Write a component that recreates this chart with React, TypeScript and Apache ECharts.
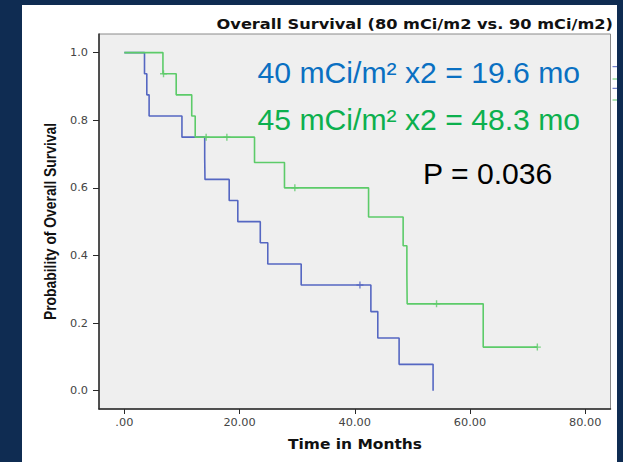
import React, { useEffect, useRef } from "react";
import * as echarts from "echarts";

// Kaplan-Meier steps [months, survival probability]
const blueEvents: [number, number][] = [
  [0, 1.0], [3.5, 0.9375], [3.9, 0.875], [4.3, 0.8125], [10.0, 0.75],
  [13.95, 0.6875], [14.0, 0.625], [18.2, 0.5625], [19.7, 0.5], [23.6, 0.4375],
  [24.9, 0.375], [30.7, 0.3125], [42.8, 0.234], [44.0, 0.156], [47.7, 0.078],
  [53.6, 0.0],
];
const blueCensored: [number, number][] = [[40.9, 0.3125]];

const greenEvents: [number, number][] = [
  [0, 1.0], [6.7, 0.9375], [9.0, 0.875], [11.7, 0.8125], [12.3, 0.75],
  [22.6, 0.675], [27.8, 0.6], [42.4, 0.514], [48.4, 0.429], [49.05, 0.343],
  [49.1, 0.257], [62.3, 0.129], [71.7, 0.129],
];
const greenCensored: [number, number][] = [
  [6.8, 0.9375], [14.2, 0.75], [17.8, 0.75], [29.6, 0.6], [54.2, 0.257], [71.7, 0.129],
];

const xTicks = [0, 20, 40, 60, 80];
const yTicks = [0, 0.2, 0.4, 0.6, 0.8, 1.0];

const titleText = "Overall Survival (80 mCi/m2 vs. 90 mCi/m2)";
const xName = "Time in Months";
const yName = "Probability of Overall Survival";
const note1 = "40 mCi/m\u00b2 x2 = 19.6 mo";
const note2 = "45 mCi/m\u00b2 x2 = 48.3 mo";
const note3 = "P = 0.036";

const BLUE = "#5567c2";
const GREEN = "#5ccb69";
const PLUS = "path://M4,0H6V4H10V6H6V10H4V6H0V4H4Z";

export default function App() {
  const ref = useRef<HTMLDivElement>(null);
  useEffect(() => {
    if (!ref.current) return;
    const chart = echarts.init(ref.current, null, { renderer: "svg" });
    const tickFont = { fontFamily: "DejaVu Sans", fontSize: 11.3, color: "#444" };
    const noteStyle = { fontFamily: "Liberation Sans, Arial", fontSize: 29, verticalAlign: "middle" };
    chart.setOption({
      animation: false,
      backgroundColor: "transparent",
      grid: {
        left: 99, top: 34, width: 511.5, height: 375,
        show: true, backgroundColor: "#efefef", borderColor: "#8a8a8a", borderWidth: 1,
      },
      xAxis: {
        type: "value",
        min: -4.4,
        max: 84.4,
        axisLine: { show: true, onZero: false, lineStyle: { color: "#2a2a2a", width: 1.5 } },
        axisTick: { show: true, length: 5, customValues: xTicks, lineStyle: { color: "#2a2a2a" } },
        axisLabel: {
          ...tickFont, margin: 8, customValues: xTicks,
          formatter: (v: number) => (v === 0 ? ".00" : v.toFixed(2)),
        },
        splitLine: { show: false },
      },
      yAxis: {
        type: "value",
        min: -0.054,
        max: 1.055,
        axisLine: { show: true, onZero: false, lineStyle: { color: "#2a2a2a", width: 1.5 } },
        axisTick: { show: true, length: 6, customValues: yTicks, lineStyle: { color: "#2a2a2a" } },
        axisLabel: {
          ...tickFont, margin: 11, customValues: yTicks,
          formatter: (v: number) => v.toFixed(1),
        },
        splitLine: { show: false },
      },
      series: [
        {
          type: "line", step: "end", data: blueEvents, symbol: "none",
          lineStyle: { color: BLUE, width: 1.6 }, z: 3,
        },
        {
          type: "line", step: "end", data: greenEvents, symbol: "none",
          lineStyle: { color: GREEN, width: 1.6 }, z: 3,
        },
        {
          type: "scatter", data: blueCensored, symbol: PLUS, symbolSize: 7,
          itemStyle: { color: BLUE }, z: 4,
        },
        {
          type: "scatter", data: greenCensored, symbol: PLUS, symbolSize: 7,
          itemStyle: { color: GREEN }, z: 4,
        },
      ],
      graphic: [
        {
          type: "text", x: 613, y: 24.9, scaleX: 1.2,
          style: {
            text: titleText, fontFamily: "DejaVu Sans", fontWeight: "bold", fontSize: 13.5,
            fill: "#111", align: "right", verticalAlign: "middle",
          },
        },
        {
          type: "text", x: 355, y: 444, scaleX: 1.145,
          style: {
            text: xName, fontFamily: "DejaVu Sans", fontWeight: "bold", fontSize: 13.5,
            fill: "#111", align: "center", verticalAlign: "middle",
          },
        },
        {
          type: "text", x: 49.7, y: 221.5, rotation: Math.PI / 2, scaleX: 0.815,
          style: {
            text: yName, fontFamily: "Liberation Sans, Arial", fontWeight: "bold", fontSize: 17,
            fill: "#111", align: "center", verticalAlign: "middle",
          },
        },
        {
          type: "text", x: 257.5, y: 73, scaleX: 1.04,
          style: { ...noteStyle, text: note1, fill: "#0a70c2" },
        },
        {
          type: "text", x: 257.5, y: 119.5, scaleX: 1.04,
          style: { ...noteStyle, text: note2, fill: "#0cb04e" },
        },
        {
          type: "text", x: 423, y: 174, scaleX: 1.04,
          style: { ...noteStyle, text: note3, fill: "#000" },
        },
        { type: "line", shape: { x1: 612.5, y1: 66.7, x2: 617, y2: 66.7 }, style: { stroke: BLUE, lineWidth: 1 } },
        { type: "line", shape: { x1: 612.5, y1: 79, x2: 617, y2: 79 }, style: { stroke: GREEN, lineWidth: 1 } },
        { type: "line", shape: { x1: 612.5, y1: 88.3, x2: 617, y2: 88.3 }, style: { stroke: BLUE, lineWidth: 1 } },
        { type: "line", shape: { x1: 612.5, y1: 100, x2: 617, y2: 100 }, style: { stroke: GREEN, lineWidth: 1 } },
      ],
    });
    return () => chart.dispose();
  }, []);

  return (
    <div style={{ position: "fixed", left: 0, top: 0, width: 623, height: 462, background: "#0f2c52", overflow: "hidden" }}>
      <div style={{ position: "absolute", left: 22, top: 5, width: 595, height: 457, background: "#ffffff" }} />
      <div ref={ref} style={{ position: "absolute", left: 0, top: 0, width: 623, height: 462 }} />
    </div>
  );
}
